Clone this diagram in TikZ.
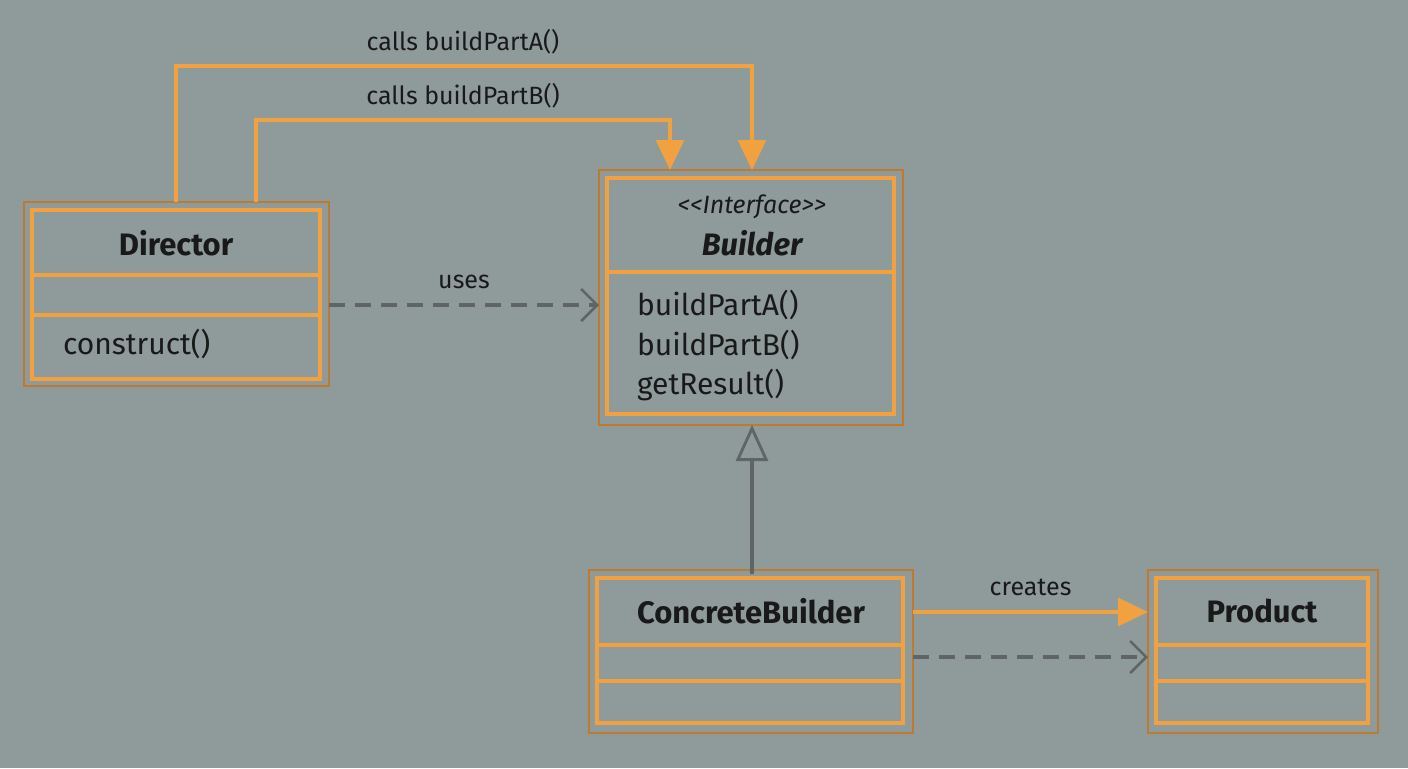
\documentclass[tikz,border=0pt]{standalone}
\usepackage{fontspec}
\setmainfont{Fira Sans}
\usetikzlibrary{arrows.meta}
\definecolor{bg}{HTML}{8F9A9B}
\definecolor{org}{HTML}{F2A140}
\definecolor{orgd}{HTML}{C07A30}
\definecolor{gr}{HTML}{5F6566}
\begin{document}
\begin{tikzpicture}[x=0.5pt,y=-0.5pt,
  outer/.style={draw=orgd,line width=1.2pt},
  inner/.style={draw=org,line width=2pt},
  divl/.style={draw=org,line width=2pt},
  title/.style={font=\fontsize{15.5}{18}\selectfont\bfseries,text=black!90},
  meth/.style={font=\fontsize{15}{18}\selectfont,text=black!90,anchor=west},
  lbl/.style={font=\fontsize{12.5}{14}\selectfont,text=black!90},
  oarr/.style={draw=org,line width=1.6pt,-{Triangle[length=15pt,width=14pt,fill=org]}},
  darr/.style={draw=gr,line width=1.6pt,dash pattern=on 8pt off 5pt,-{Straight Barb[length=8pt,width=16pt,line width=1.3pt]}}]
\fill[bg] (0,0) rectangle (1408,768);
\useasboundingbox (0,0) rectangle (1408,768);
% Director
\draw[outer] (24,202) rectangle (329,386);
\draw[inner] (32,210) rectangle (320,379);
\draw[divl] (32,275) -- (320,275) (32,315) -- (320,315);
\node[title] (dir) at (176,243) {Director};
\node[meth] (con) at (56,344) {construct()};
\coordinate (dirA) at (176,202);
\coordinate (dirB) at (256,202);
\coordinate (dirR) at (329,305);
% Builder
\draw[outer] (599,170) rectangle (903,425);
\draw[inner] (607,178) rectangle (894,414);
\draw[divl] (607,272) -- (894,272);
\node[font=\fontsize{12.5}{14}\selectfont\itshape,text=black!90] (st) at (752,207) {<{}<Interface>{}>};
\node[title,font=\fontsize{15.5}{18}\selectfont\bfseries\itshape] (bt) at (752,243) {Builder};
\node[meth] (m1) at (630,305) {buildPartA()};
\node[meth] (m2) at (630,345) {buildPartB()};
\node[meth] (m3) at (630,385) {getResult()};
\coordinate (bA) at (752,170);
\coordinate (bB) at (670,170);
\coordinate (bL) at (599,305);
\coordinate (bBot) at (752,425);
% ConcreteBuilder
\draw[outer] (589,570) rectangle (913,733);
\draw[inner] (597,578) rectangle (903,723);
\draw[divl] (597,645) -- (903,645) (597,681) -- (903,681);
\node[title] (cb) at (751,611) {ConcreteBuilder};
\coordinate (cbT) at (752,574);
\coordinate (cbR1) at (913,612);
\coordinate (cbR2) at (913,657);
% Product
\draw[outer] (1148,570) rectangle (1378,733);
\draw[inner] (1156,578) rectangle (1368,723);
\draw[divl] (1156,645) -- (1368,645) (1156,681) -- (1368,681);
\node[title] (pr) at (1262,611) {Product};
\coordinate (pL1) at (1148,612);
\coordinate (pL2) at (1148,657);
% connectors
\draw[oarr] (dirA) |- (463,66) node[lbl,above=2pt] {calls buildPartA()} -| (bA);
\draw[oarr] (dirB) |- (463,120) node[lbl,above=2pt] {calls buildPartB()} -| (bB);
\draw[darr] (dirR) -- node[lbl,above=4pt] {uses} (bL);
\draw[draw=gr,line width=1.6pt,-{Triangle[open,length=18pt,width=16pt,line width=1.4pt]}] (cbT) -- (bBot);
\draw[oarr] (cbR1) -- node[lbl,above=4pt] {creates} (pL1);
\draw[darr] (cbR2) -- (pL2);
\end{tikzpicture}
\end{document}
